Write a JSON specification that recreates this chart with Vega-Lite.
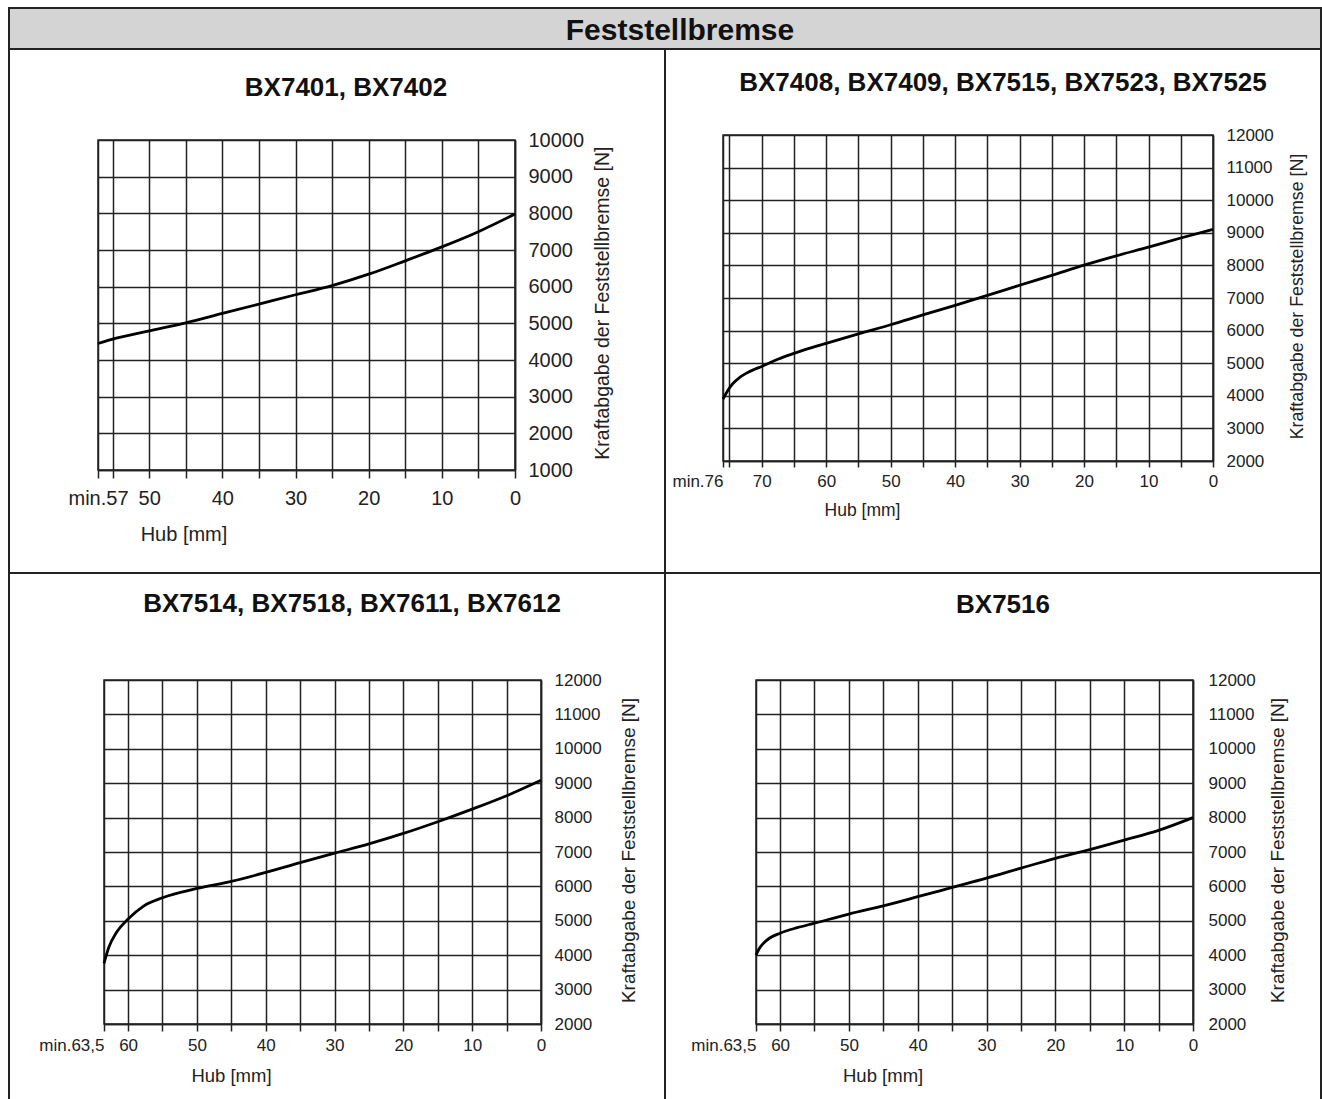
{
  "$schema": "https://vega.github.io/schema/vega-lite/v6.json",
  "padding": {"left": 8, "top": 7, "right": 0, "bottom": 0},
  "background": "white",
  "spacing": 0,
  "bounds": "full",
  "config": {
    "font": "Liberation Sans",
    "view": {"stroke": null},
    "concat": {"spacing": 0},
    "axis": {
      "labelFont": "Liberation Sans", "titleFont": "Liberation Sans",
      "labelColor": "#222", "titleColor": "#222", "titleFontWeight": "normal",
      "grid": true, "gridColor": "#222", "gridWidth": 1.5, "gridOpacity": 1,
      "domainColor": "#222", "domainWidth": 1.5, "tickColor": "#222", "tickWidth": 1.5,
      "labelFlush": false, "labelOverlap": false, "labelBound": false
    }
  },
  "vconcat": [
    {"width": 1314, "height": 2, "data": {"values": []}, "mark": "point", "view": {"fill": "#222", "stroke": null}},
    {
      "spacing": 0,
      "hconcat": [
        {"width": 2, "height": 39, "data": {"values": []}, "mark": "point", "view": {"fill": "#222", "stroke": null}},
        {"width": 1310, "height": 39, "view": {"fill": "#d4d4d4", "stroke": null},
         "data": {"values": [{"t": "Feststellbremse"}]},
         "mark": {"type": "text", "font": "Liberation Sans", "fontSize": 30, "fontWeight": "bold", "color": "#111", "align": "center", "baseline": "middle", "dx": 15, "dy": 2.7},
         "encoding": {"text": {"field": "t"}}},
        {"width": 2, "height": 39, "data": {"values": []}, "mark": "point", "view": {"fill": "#222", "stroke": null}}
      ]
    },
    {"width": 1314, "height": 2, "data": {"values": []}, "mark": "point", "view": {"fill": "#222", "stroke": null}},
    {
      "spacing": 0,
      "hconcat": [
        {"width": 2, "height": 522, "data": {"values": []}, "mark": "point", "view": {"fill": "#222", "stroke": null}},
        {
          "spacing": 0,
          "vconcat": [
            {"width": 654, "height": 79, "data": {"values": [{"t": "BX7401, BX7402"}]},
             "mark": {"type": "text", "font": "Liberation Sans", "fontSize": 26, "fontWeight": "bold", "color": "#111", "align": "center", "baseline": "middle", "dx": 9, "dy": -2},
             "encoding": {"text": {"field": "t"}}},
            {
              "spacing": 0,
              "hconcat": [
                {"width": 57, "height": 1, "data": {"values": []}, "mark": "point"},
                {
                  "width": 417, "height": 330,
                  "view": {"stroke": "#222", "strokeWidth": 1.5},
                  "data": {"values": [
                    {"hub": 57, "kraft": 4450}, {"hub": 55, "kraft": 4570}, {"hub": 50, "kraft": 4795},
                    {"hub": 45, "kraft": 5015}, {"hub": 40, "kraft": 5270}, {"hub": 35, "kraft": 5525},
                    {"hub": 30, "kraft": 5780}, {"hub": 25, "kraft": 6030}, {"hub": 20, "kraft": 6340},
                    {"hub": 15, "kraft": 6705}, {"hub": 10, "kraft": 7085}, {"hub": 5, "kraft": 7500},
                    {"hub": 0, "kraft": 7980}
                  ]},
                  "mark": {"type": "line", "color": "#000", "strokeWidth": 2.8, "interpolate": "monotone"},
                  "encoding": {
                    "x": {"field": "hub", "type": "quantitative",
                      "scale": {"domain": [0, 57], "reverse": true, "nice": false, "zero": false},
                      "axis": {"values": [57, 55, 50, 45, 40, 35, 30, 25, 20, 15, 10, 5, 0],
                        "labelExpr": "datum.value == 57 ? 'min.57' : (datum.value % 10 == 0 ? datum.label : '')",
                        "labelFontSize": 20, "tickSize": 8, "labelPadding": 10,
                        "title": "Hub [mm]", "titleFontSize": 20, "titleX": 85.5, "titleY": 64, "titleAlign": "center", "titleBaseline": "middle"}},
                    "y": {"field": "kraft", "type": "quantitative",
                      "scale": {"domain": [1000, 10000], "nice": false, "zero": false},
                      "axis": {"orient": "right", "values": [1000, 2000, 3000, 4000, 5000, 6000, 7000, 8000, 9000, 10000], "format": "d",
                        "ticks": false, "tickSize": 0, "labelPadding": 13, "labelFontSize": 20, "labelAlign": "left",
                        "title": "Kraftabgabe der Feststellbremse [N]", "titleFontSize": 19.5, "titleAngle": 270,
                        "titleX": 87, "titleY": 162.6, "titleAlign": "center", "titleBaseline": "middle"}}
                  }
                }
              ]
            }
          ]
        },
        {"width": 2, "height": 522, "data": {"values": []}, "mark": "point", "view": {"fill": "#222", "stroke": null}},
        {
          "spacing": 0,
          "vconcat": [
            {"width": 654, "height": 75, "data": {"values": [{"t": "BX7408, BX7409, BX7515, BX7523, BX7525"}]},
             "mark": {"type": "text", "font": "Liberation Sans", "fontSize": 26, "fontWeight": "bold", "color": "#111", "align": "center", "baseline": "middle", "dx": 10, "dy": -5},
             "encoding": {"text": {"field": "t"}}},
            {
              "spacing": 0,
              "hconcat": [
                {"width": 5, "height": 1, "data": {"values": []}, "mark": "point"},
                {
                  "width": 490, "height": 326,
                  "view": {"stroke": "#222", "strokeWidth": 1.5},
                  "data": {"values": [
                    {"hub": 76, "kraft": 3900}, {"hub": 75.3, "kraft": 4150}, {"hub": 74.5, "kraft": 4370},
                    {"hub": 73.5, "kraft": 4550}, {"hub": 72.5, "kraft": 4680}, {"hub": 71, "kraft": 4820},
                    {"hub": 70, "kraft": 4900}, {"hub": 67.5, "kraft": 5120}, {"hub": 65, "kraft": 5300},
                    {"hub": 62.5, "kraft": 5460}, {"hub": 60, "kraft": 5610}, {"hub": 55, "kraft": 5900},
                    {"hub": 50, "kraft": 6180}, {"hub": 45, "kraft": 6480}, {"hub": 40, "kraft": 6775},
                    {"hub": 35, "kraft": 7080}, {"hub": 30, "kraft": 7390}, {"hub": 25, "kraft": 7695},
                    {"hub": 20, "kraft": 8010}, {"hub": 15, "kraft": 8295}, {"hub": 10, "kraft": 8560},
                    {"hub": 5, "kraft": 8840}, {"hub": 0, "kraft": 9105}
                  ]},
                  "mark": {"type": "line", "color": "#000", "strokeWidth": 2.8, "interpolate": "monotone"},
                  "encoding": {
                    "x": {"field": "hub", "type": "quantitative",
                      "scale": {"domain": [0, 76], "reverse": true, "nice": false, "zero": false},
                      "axis": {"values": [76, 75, 70, 65, 60, 55, 50, 45, 40, 35, 30, 25, 20, 15, 10, 5, 0],
                        "labelExpr": "datum.value == 76 ? 'min.76' : (datum.value % 10 == 0 ? datum.label : '')",
                        "labelAlign": {"condition": {"test": "datum.value == 76", "value": "right"}, "value": "center"},
                        "labelFontSize": 17, "tickSize": 6, "labelPadding": 6.7,
                        "title": "Hub [mm]", "titleFontSize": 17.5, "titleX": 139, "titleY": 49, "titleAlign": "center", "titleBaseline": "middle"}},
                    "y": {"field": "kraft", "type": "quantitative",
                      "scale": {"domain": [2000, 12000], "nice": false, "zero": false},
                      "axis": {"orient": "right", "values": [2000, 3000, 4000, 5000, 6000, 7000, 8000, 9000, 10000, 11000, 12000], "format": "d",
                        "ticks": false, "tickSize": 0, "labelPadding": 13, "labelFontSize": 17, "labelAlign": "left",
                        "title": "Kraftabgabe der Feststellbremse [N]", "titleFontSize": 17.8, "titleAngle": 270,
                        "titleX": 84, "titleY": 161, "titleAlign": "center", "titleBaseline": "middle"}}
                  }
                }
              ]
            }
          ]
        },
        {"width": 2, "height": 522, "data": {"values": []}, "mark": "point", "view": {"fill": "#222", "stroke": null}}
      ]
    },
    {"width": 1314, "height": 2, "data": {"values": []}, "mark": "point", "view": {"fill": "#222", "stroke": null}},
    {
      "spacing": 0,
      "hconcat": [
        {"width": 2, "height": 530, "data": {"values": []}, "mark": "point", "view": {"fill": "#222", "stroke": null}},
        {
          "spacing": 0,
          "vconcat": [
            {"width": 654, "height": 96, "data": {"values": [{"t": "BX7514, BX7518, BX7611, BX7612"}]},
             "mark": {"type": "text", "font": "Liberation Sans", "fontSize": 26, "fontWeight": "bold", "color": "#111", "align": "center", "baseline": "middle", "dx": 15, "dy": -18},
             "encoding": {"text": {"field": "t"}}},
            {
              "spacing": 0,
              "hconcat": [
                {"width": 27.8, "height": 1, "data": {"values": []}, "mark": "point"},
                {
                  "width": 437, "height": 344,
                  "view": {"stroke": "#222", "strokeWidth": 1.5},
                  "data": {"values": [
                    {"hub": 63.5, "kraft": 3760}, {"hub": 62.8, "kraft": 4230}, {"hub": 61.7, "kraft": 4660},
                    {"hub": 60, "kraft": 5050}, {"hub": 57.8, "kraft": 5420}, {"hub": 55, "kraft": 5670},
                    {"hub": 50, "kraft": 5940}, {"hub": 45, "kraft": 6145}, {"hub": 40, "kraft": 6405},
                    {"hub": 35, "kraft": 6690}, {"hub": 30, "kraft": 6965}, {"hub": 25, "kraft": 7235},
                    {"hub": 20, "kraft": 7540}, {"hub": 15, "kraft": 7880}, {"hub": 10, "kraft": 8245},
                    {"hub": 5, "kraft": 8635}, {"hub": 0, "kraft": 9085}
                  ]},
                  "mark": {"type": "line", "color": "#000", "strokeWidth": 2.8, "interpolate": "monotone"},
                  "encoding": {
                    "x": {"field": "hub", "type": "quantitative",
                      "scale": {"domain": [0, 63.5], "reverse": true, "nice": false, "zero": false},
                      "axis": {"values": [63.5, 60, 55, 50, 45, 40, 35, 30, 25, 20, 15, 10, 5, 0],
                        "labelExpr": "datum.value == 63.5 ? 'min.63,5' : (datum.value % 10 == 0 ? datum.label : '')",
                        "labelAlign": {"condition": {"test": "datum.value == 63.5", "value": "right"}, "value": "center"},
                        "labelFontSize": 17, "tickSize": 7, "labelPadding": 6.7,
                        "title": "Hub [mm]", "titleFontSize": 18.5, "titleX": 127, "titleY": 51, "titleAlign": "center", "titleBaseline": "middle"}},
                    "y": {"field": "kraft", "type": "quantitative",
                      "scale": {"domain": [2000, 12000], "nice": false, "zero": false},
                      "axis": {"orient": "right", "values": [2000, 3000, 4000, 5000, 6000, 7000, 8000, 9000, 10000, 11000, 12000], "format": "d",
                        "ticks": false, "tickSize": 0, "labelPadding": 13, "labelFontSize": 17, "labelAlign": "left",
                        "title": "Kraftabgabe der Feststellbremse [N]", "titleFontSize": 19, "titleAngle": 270,
                        "titleX": 87, "titleY": 170, "titleAlign": "center", "titleBaseline": "middle"}}
                  }
                }
              ]
            }
          ]
        },
        {"width": 2, "height": 530, "data": {"values": []}, "mark": "point", "view": {"fill": "#222", "stroke": null}},
        {
          "spacing": 0,
          "vconcat": [
            {"width": 654, "height": 96, "data": {"values": [{"t": "BX7516"}]},
             "mark": {"type": "text", "font": "Liberation Sans", "fontSize": 26, "fontWeight": "bold", "color": "#111", "align": "center", "baseline": "middle", "dx": 10, "dy": -17},
             "encoding": {"text": {"field": "t"}}},
            {
              "spacing": 0,
              "hconcat": [
                {"width": 23.8, "height": 1, "data": {"values": []}, "mark": "point"},
                {
                  "width": 437, "height": 344,
                  "view": {"stroke": "#222", "strokeWidth": 1.5},
                  "data": {"values": [
                    {"hub": 63.5, "kraft": 4000}, {"hub": 63, "kraft": 4200}, {"hub": 62.3, "kraft": 4370},
                    {"hub": 61.5, "kraft": 4500}, {"hub": 60, "kraft": 4640}, {"hub": 57.5, "kraft": 4800},
                    {"hub": 55, "kraft": 4930}, {"hub": 50, "kraft": 5195}, {"hub": 45, "kraft": 5435},
                    {"hub": 40, "kraft": 5700}, {"hub": 35, "kraft": 5970}, {"hub": 30, "kraft": 6240},
                    {"hub": 25, "kraft": 6530}, {"hub": 20, "kraft": 6815}, {"hub": 15, "kraft": 7070},
                    {"hub": 10, "kraft": 7345}, {"hub": 5, "kraft": 7630}, {"hub": 0, "kraft": 8000}
                  ]},
                  "mark": {"type": "line", "color": "#000", "strokeWidth": 2.8, "interpolate": "monotone"},
                  "encoding": {
                    "x": {"field": "hub", "type": "quantitative",
                      "scale": {"domain": [0, 63.5], "reverse": true, "nice": false, "zero": false},
                      "axis": {"values": [63.5, 60, 55, 50, 45, 40, 35, 30, 25, 20, 15, 10, 5, 0],
                        "labelExpr": "datum.value == 63.5 ? 'min.63,5' : (datum.value % 10 == 0 ? datum.label : '')",
                        "labelAlign": {"condition": {"test": "datum.value == 63.5", "value": "right"}, "value": "center"},
                        "labelFontSize": 17, "tickSize": 7, "labelPadding": 6.7,
                        "title": "Hub [mm]", "titleFontSize": 18.5, "titleX": 126.6, "titleY": 51, "titleAlign": "center", "titleBaseline": "middle"}},
                    "y": {"field": "kraft", "type": "quantitative",
                      "scale": {"domain": [2000, 12000], "nice": false, "zero": false},
                      "axis": {"orient": "right", "values": [2000, 3000, 4000, 5000, 6000, 7000, 8000, 9000, 10000, 11000, 12000], "format": "d",
                        "ticks": false, "tickSize": 0, "labelPadding": 15, "labelFontSize": 17, "labelAlign": "left",
                        "title": "Kraftabgabe der Feststellbremse [N]", "titleFontSize": 19, "titleAngle": 270,
                        "titleX": 84, "titleY": 170, "titleAlign": "center", "titleBaseline": "middle"}}
                  }
                }
              ]
            }
          ]
        },
        {"width": 2, "height": 530, "data": {"values": []}, "mark": "point", "view": {"fill": "#222", "stroke": null}}
      ]
    }
  ]
}
